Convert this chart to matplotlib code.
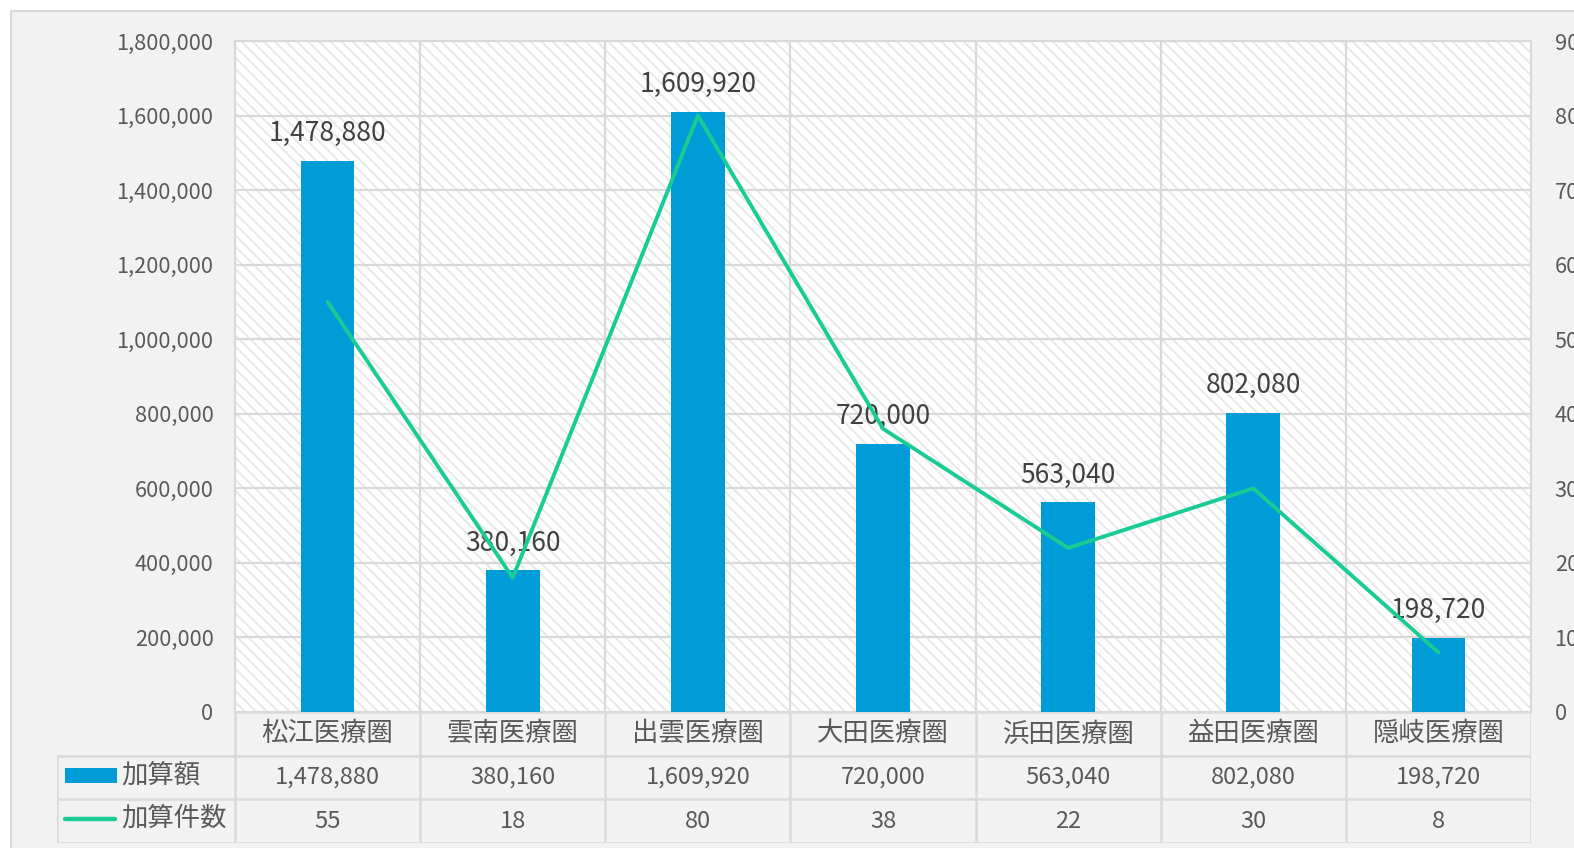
import matplotlib
matplotlib.use("Agg")
import matplotlib.pyplot as plt
from matplotlib.patches import Rectangle
from matplotlib.lines import Line2D

plt.rcParams['font.family'] = ['Noto Sans CJK JP', 'DejaVu Sans']
plt.rcParams['hatch.linewidth'] = 1.4

# data
areas = ["松江医療圏", "雲南医療圏", "出雲医療圏", "大田医療圏", "浜田医療圏", "益田医療圏", "隠岐医療圏"]
amounts = [1478880, 380160, 1609920, 720000, 563040, 802080, 198720]
counts = [55, 18, 80, 38, 22, 30, 8]
series_names = ["加算額", "加算件数"]

W, H = 1574, 848
BAR = "#009CD8"
LINE = "#19CC95"
GRID = "#d9d9d9"
TXT = "#595959"

fig = plt.figure(figsize=(W / 100, H / 100), dpi=100, facecolor="white")
fig.patches.append(Rectangle((11 / W, -0.05), 1.2, 1.05 - 11 / H, transform=fig.transFigure,
                             facecolor="#f2f2f2", edgecolor=GRID, lw=1.5, zorder=-10))

pl, pr, pt, pb = 235, 1531, 41, 712
ax = fig.add_axes([pl / W, 1 - pb / H, (pr - pl) / W, (pb - pt) / H])
ax.set_facecolor("white")
ax.add_patch(Rectangle((0, 0), 1, 1, transform=ax.transAxes, facecolor="white",
                       edgecolor="#e8e8e8", hatch="\\\\\\", lw=0, zorder=0))
x = list(range(len(areas)))
ax.bar(x, amounts, width=0.29, color=BAR, zorder=3)
ax.set_xlim(-0.5, len(areas) - 0.5)
ax.set_ylim(0, 1800000)
ax.set_yticks(range(0, 1800001, 200000))
ax.set_yticklabels([f"{v:,}" for v in range(0, 1800001, 200000)], fontsize=15.7, color=TXT)
ax.tick_params(axis="y", length=0, pad=15.5)
ax.set_xticks([])
for v in range(200000, 1800000, 200000):
    ax.axhline(v, color=GRID, lw=1.6, zorder=1)
for b in [i + 0.5 for i in range(len(areas) - 1)]:
    ax.axvline(b, color=GRID, lw=1.6, zorder=1)
for s in ax.spines.values():
    s.set_color(GRID)
    s.set_linewidth(1.6)

for xi, v in zip(x, amounts):
    ax.annotate(f"{v:,}", (xi, v), xytext=(0, 19.5), textcoords="offset points",
                ha="center", va="center", fontsize=19, color="#404040", zorder=6)

ax2 = ax.twinx()
ax2.plot(x, counts, color=LINE, lw=2.8, zorder=4, solid_capstyle="round")
ax2.set_ylim(0, 90)
ax2.set_yticks(range(0, 91, 10))
ax2.set_yticklabels([str(v) for v in range(0, 91, 10)], fontsize=15.7, color=TXT)
ax2.tick_params(axis="y", length=0, pad=17)
for s in ax2.spines.values():
    s.set_visible(False)

# data table under the plot
tl, tb = 56.7, 843
tab = fig.add_axes([tl / W, 1 - tb / H, (pr - tl) / W, (tb - pb) / H])
unit = (pr - pl) / len(areas)
tab.set_xlim(-0.5 - (pl - tl) / unit, len(areas) - 0.5)
tab.set_ylim(3, 0)
tab.axis("off")
xl = tab.get_xlim()[0]
lk = dict(color=GRID, lw=1.8)
tab.plot([-0.5, len(areas) - 0.5], [0, 0], **lk)
for r in [1, 2, 3]:
    tab.plot([xl, len(areas) - 0.5], [r, r], **lk)
tab.plot([xl, xl], [1, 3], **lk)
for b in [i - 0.5 for i in range(len(areas) + 1)]:
    tab.plot([b, b], [0, 3], **lk)
for xi, name in enumerate(areas):
    tab.text(xi, 0.5, name, ha="center", va="center", fontsize=19, color=TXT)
    tab.text(xi, 1.5, f"{amounts[xi]:,}", ha="center", va="center", fontsize=17, color=TXT)
    tab.text(xi, 2.5, str(counts[xi]), ha="center", va="center", fontsize=17, color=TXT)

# legend keys in the table
fig.patches.append(Rectangle((65 / W, 1 - 783 / H), 52 / W, 15 / H, transform=fig.transFigure,
                             facecolor=BAR, edgecolor="none"))
fig.lines.append(Line2D([65 / W, 115 / W], [1 - 819 / H] * 2, transform=fig.transFigure,
                        color=LINE, lw=3.2, solid_capstyle="round"))
fig.text(121 / W, 1 - 775 / H, series_names[0], ha="left", va="center", fontsize=19, color=TXT)
fig.text(121 / W, 1 - 818 / H, series_names[1], ha="left", va="center", fontsize=19, color=TXT)

fig.savefig("out.png", dpi=100, facecolor=fig.get_facecolor())
